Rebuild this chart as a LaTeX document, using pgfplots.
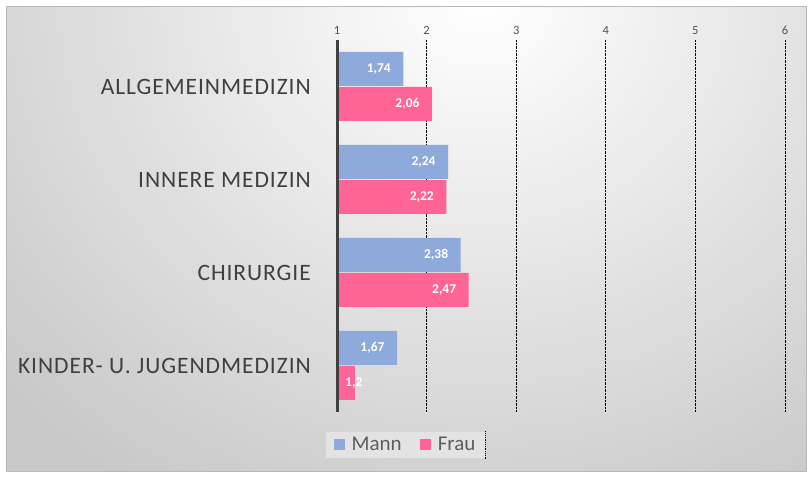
\documentclass[border=0pt]{standalone}
\usepackage{fontspec}
\setmainfont{Carlito}
\newfontfamily\catfont{Carlito}[LetterSpace=4]
\usepackage{pgfplots}
\pgfplotsset{compat=1.18}
\definecolor{mann}{HTML}{8EA9DB}
\definecolor{frau}{HTML}{FF6496}
\definecolor{txt}{HTML}{404040}
\definecolor{bgout}{HTML}{C8C8C8}
\pgfplotstableread{
y x lab sh
0 1.74 1,74 -9
1 2.24 2,24 -9
2 2.38 2,38 -9
3 1.67 1,67 -9
}\mann
\pgfplotstableread{
y x lab sh
0 2.06 2,06 -9
1 2.22 2,22 -9
2 2.47 2,47 -9
3 1.2 1,2 11
}\frau
\begin{document}
\begin{tikzpicture}[x=1pt,y=1pt]
\path[fill=white] (0,0) rectangle (812,478);
\begin{scope}
\clip (6,6) rectangle (806,471);
\fill[bgout] (6,6) rectangle (806,471);
\shade[inner color=white, outer color=bgout] (480,478) ellipse (640 and 580);
\end{scope}
\draw[color=gray!55, line width=1pt] (6,6) rectangle (806,471);
\begin{axis}[
  name=ax,
  at={(337pt,66pt)}, anchor=south west,
  scale only axis, width=448pt, height=372pt,
  xmin=1, xmax=6, ymin=-0.5, ymax=3.5,
  y dir=reverse,
  xbar=1pt, bar width=34pt,
  xtick={1,2,3,4,5,6},
  xticklabel pos=upper,
  xticklabel style={font=\fontsize{12.5}{14}\selectfont, text=txt!90, yshift=2pt},
  ytick={0,1,2,3},
  yticklabels={ALLGEMEINMEDIZIN, INNERE MEDIZIN, CHIRURGIE, KINDER- U. JUGENDMEDIZIN},
  yticklabel style={font=\catfont\fontsize{23.5}{26}\selectfont, text=txt, inner sep=0pt, anchor=east, xshift=-26pt},
  major tick length=0pt,
  axis line style={draw=none},
  xmajorgrids, grid style={densely dotted, black, line width=0.8pt},
  /pgf/number format/assume math mode=true,
  point meta=explicit symbolic,
  nodes near coords,
  visualization depends on={\thisrow{sh} \as \lsh},
  every node near coord/.append style={font=\bfseries\fontsize{13.5}{15}\selectfont, text=white, anchor=east, xshift=\lsh pt},
  legend columns=2, reverse legend,
  legend style={name=leg, at={(0.153,-0.0887)}, anchor=center, draw=none, fill=black!11,
    font=\fontsize{21}{24}\selectfont, text=txt!85, inner xsep=8pt, inner ysep=4pt,
    /tikz/every odd column/.append style={column sep=5pt},
    /tikz/every even column/.append style={column sep=16pt}},
  legend image code/.code={\fill[#1,draw=none] (0pt,-5.5pt) rectangle (11pt,5.5pt);},
]
\addplot[fill=frau, draw=none] table[x=x, y=y, meta=lab] {\frau};
\addplot[fill=mann, draw=none] table[x=x, y=y, meta=lab] {\mann};
\legend{Frau, Mann}
\end{axis}
\draw[txt, line width=3pt] (ax.south west) -- (ax.north west);
\draw[densely dotted, black, line width=0.8pt] (leg.north east) -- (leg.south east);
\end{tikzpicture}
\end{document}
